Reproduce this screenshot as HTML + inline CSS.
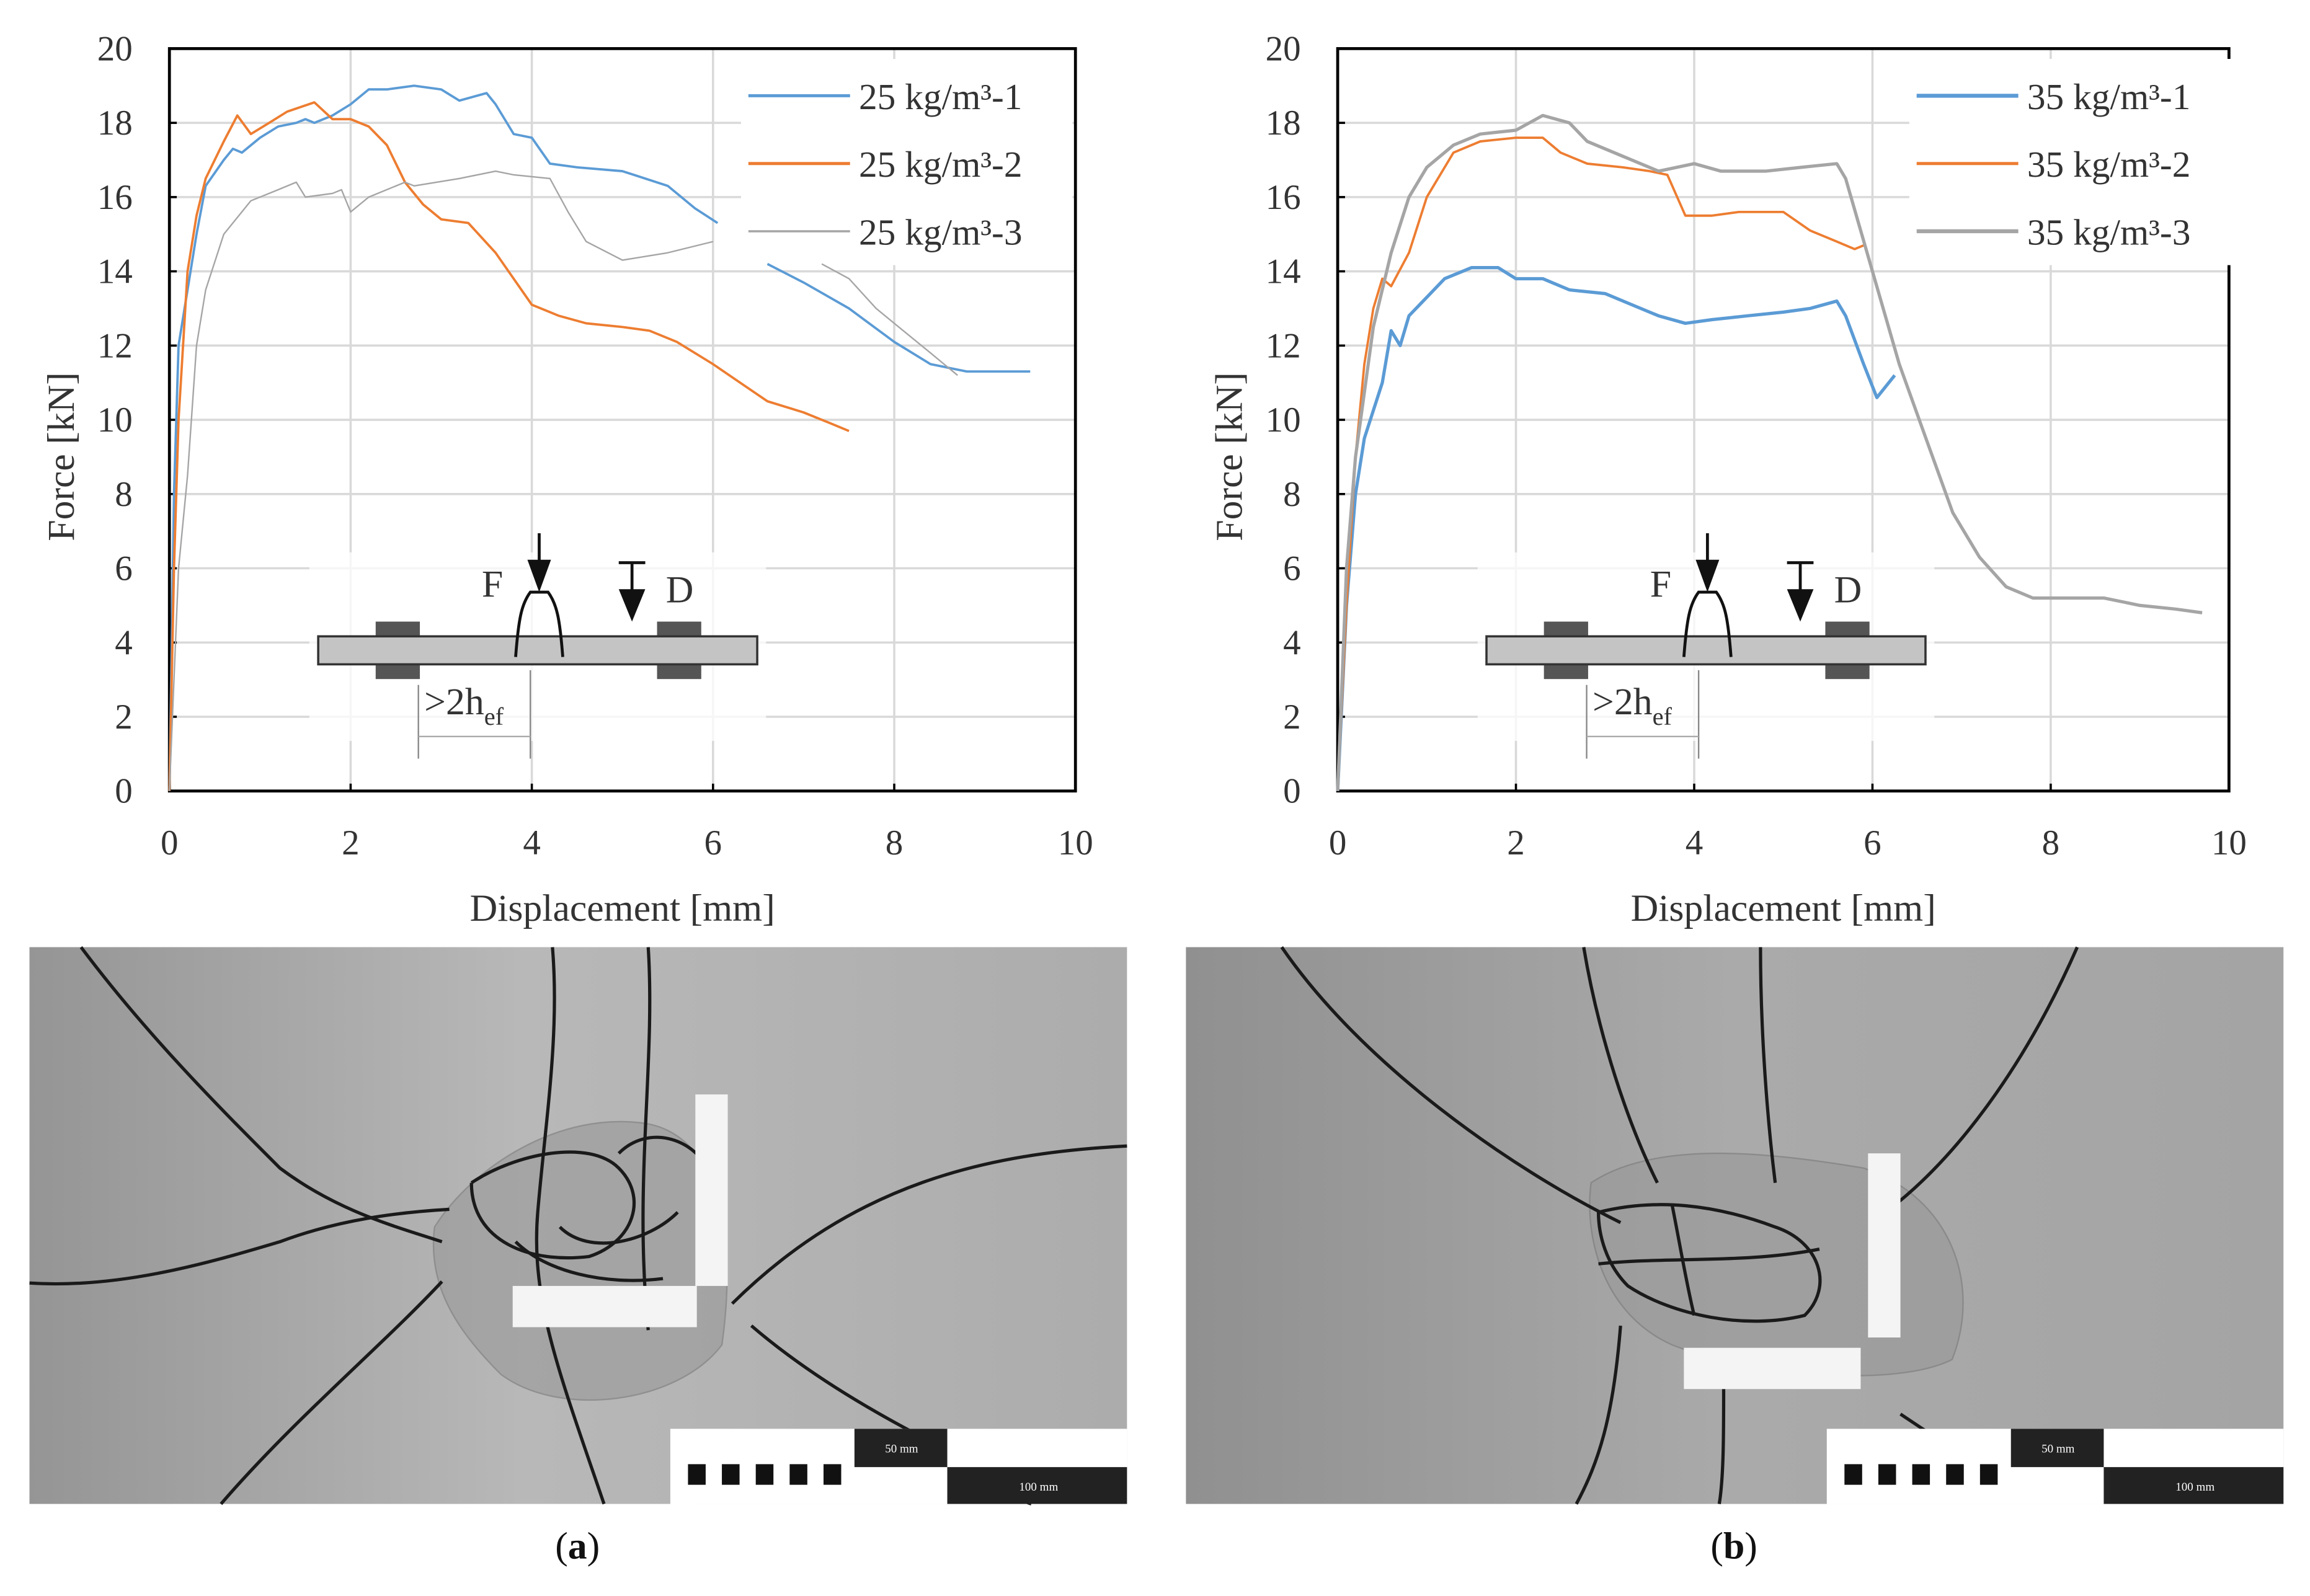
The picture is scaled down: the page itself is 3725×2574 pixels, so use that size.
<!DOCTYPE html>
<html><head><meta charset="utf-8">
<style>
html,body{margin:0;padding:0;background:#fff;}
svg{display:block;}
text{font-family:"Liberation Serif",serif;}
</style></head>
<body>
<svg id="fig" width="3725" height="2574" viewBox="0 0 1568 1083.5" xmlns="http://www.w3.org/2000/svg">
<defs>
<linearGradient id="photoA" x1="0" x2="1" y1="0" y2="0"><stop offset="0" stop-color="#959595"/><stop offset="0.45" stop-color="#b8b8b8"/><stop offset="1" stop-color="#acacac"/></linearGradient>
<linearGradient id="photoB" x1="0" x2="1" y1="0" y2="0"><stop offset="0" stop-color="#909090"/><stop offset="0.5" stop-color="#aaaaaa"/><stop offset="1" stop-color="#a4a4a4"/></linearGradient>
</defs>
<g id="root"></g>
</svg>
<script>
// ---- chart data (displacement mm, force kN); null = gap ----
const xTicks = [0, 2, 4, 6, 8, 10];
const yTicks = [0, 2, 4, 6, 8, 10, 12, 14, 16, 18, 20];
const legendLeft = ["25 kg/m³-1", "25 kg/m³-2", "25 kg/m³-3"];
const legendRight = ["35 kg/m³-1", "35 kg/m³-2", "35 kg/m³-3"];
const a1x = [0,0.05,0.1,0.2,0.3,0.4,0.6,0.7,0.8,1.0,1.2,1.4,1.5,1.6,1.8,2.0,2.2,2.4,2.7,3.0,3.2,3.5,3.6,3.8,4.0,4.2,4.5,5.0,5.5,5.8,6.05,null,6.6,7.0,7.5,8.0,8.4,8.8,9.2,9.5];
const a1y = [0,8,12,13.5,15,16.3,17,17.3,17.2,17.6,17.9,18,18.1,18,18.2,18.5,18.9,18.9,19.0,18.9,18.6,18.8,18.5,17.7,17.6,16.9,16.8,16.7,16.3,15.7,15.3,null,14.2,13.7,13.0,12.1,11.5,11.3,11.3,11.3];
const a2x = [0,0.05,0.1,0.2,0.3,0.4,0.6,0.75,0.9,1.1,1.3,1.6,1.8,2.0,2.2,2.4,2.6,2.8,3.0,3.3,3.6,4.0,4.3,4.6,5.0,5.3,5.6,6.0,6.3,6.6,7.0,7.3,7.5];
const a2y = [0,6,10,14,15.5,16.5,17.5,18.2,17.7,18,18.3,18.55,18.1,18.1,17.9,17.4,16.4,15.8,15.4,15.3,14.5,13.1,12.8,12.6,12.5,12.4,12.1,11.5,11.0,10.5,10.2,9.9,9.7];
const a3x = [0,0.1,0.2,0.3,0.4,0.6,0.9,1.2,1.4,1.5,1.8,1.9,2.0,2.2,2.6,2.7,3.2,3.6,3.8,4.2,4.4,4.6,5.0,5.5,6.0,null,7.2,7.5,7.8,8.1,8.4,8.7];
const a3y = [0,6,8.5,12,13.5,15,15.9,16.2,16.4,16,16.1,16.2,15.6,16,16.4,16.3,16.5,16.7,16.6,16.5,15.6,14.8,14.3,14.5,14.8,null,14.2,13.8,13.0,12.4,11.8,11.2];
const b1x = [0,0.1,0.2,0.3,0.5,0.6,0.7,0.8,1.0,1.2,1.5,1.8,2.0,2.3,2.6,3.0,3.3,3.6,3.9,4.2,4.6,5.0,5.3,5.6,5.7,5.9,6.05,6.25];
const b1y = [0,5,8,9.5,11,12.4,12,12.8,13.3,13.8,14.1,14.1,13.8,13.8,13.5,13.4,13.1,12.8,12.6,12.7,12.8,12.9,13.0,13.2,12.8,11.5,10.6,11.2];
const b2x = [0,0.1,0.2,0.3,0.4,0.5,0.6,0.8,1.0,1.3,1.6,2.0,2.3,2.5,2.8,3.2,3.5,3.7,3.9,4.2,4.5,5.0,5.3,5.6,5.8,5.9];
const b2y = [0,5,9,11.5,13,13.8,13.6,14.5,16,17.2,17.5,17.6,17.6,17.2,16.9,16.8,16.7,16.6,15.5,15.5,15.6,15.6,15.1,14.8,14.6,14.7];
const b3x = [0,0.1,0.2,0.4,0.6,0.8,1.0,1.3,1.6,2.0,2.3,2.6,2.8,3.2,3.6,4.0,4.3,4.8,5.2,5.6,5.7,6.0,6.3,6.6,6.9,7.2,7.5,7.8,8.2,8.6,9.0,9.4,9.7];
const b3y = [0,6,9,12.5,14.5,16,16.8,17.4,17.7,17.8,18.2,18.0,17.5,17.1,16.7,16.9,16.7,16.7,16.8,16.9,16.5,14,11.5,9.5,7.5,6.3,5.5,5.2,5.2,5.2,5.0,4.9,4.8];

const NS = "http://www.w3.org/2000/svg";
const root = document.getElementById("root");
function mk(tag, attrs, parent, txt){
  const e = document.createElementNS(NS, tag);
  for (const k in attrs) e.setAttribute(k, attrs[k]);
  if (txt !== undefined) e.textContent = txt;
  (parent || root).appendChild(e);
  return e;
}
const Y0 = 537, Y1 = 33;
function drawPanel(x0, x1, series, legend, tag){
  const g = mk("g", {});
  
  
  const sx = v => x0 + (x1 - x0) * v / 10;
  const sy = v => Y0 - (Y0 - Y1) * v / 20;
  yTicks.forEach(t => { if (t > 0 && t < 20) { const l = mk("line", {x1:x0, x2:x1, y1:sy(t), y2:sy(t), stroke:"#d9d9d9", "stroke-width":1.5}, g);
    
     } });
  xTicks.forEach(t => { if (t > 0 && t < 10) { const l = mk("line", {x1:sx(t), x2:sx(t), y1:Y1, y2:Y0, stroke:"#d9d9d9", "stroke-width":1.5}, g);
    
     } });
  const fr = mk("rect", {x:x0, y:Y1, width:x1-x0, height:Y0-Y1, fill:"none", stroke:"#000", "stroke-width":2}, g);
  
  
  yTicks.forEach(t => {
    mk("line", {x1:x0, x2:x0+5, y1:sy(t), y2:sy(t), stroke:"#000", "stroke-width":1.5}, g);
    const tx = mk("text", {x:x0-25, y:sy(t)+8, "font-size":24, "text-anchor":"end", fill:"#333"}, g, String(t));
    
    
  });
  xTicks.forEach(t => {
    mk("line", {x1:sx(t), x2:sx(t), y1:Y0, y2:Y0-5, stroke:"#000", "stroke-width":1.5}, g);
    const tx = mk("text", {x:sx(t), y:580, "font-size":24, "text-anchor":"middle", fill:"#333"}, g, String(t));
    
    
  });
  const xt = mk("text", {x:(x0+x1)/2, y:625, "font-size":26, "text-anchor":"middle", fill:"#333"}, g, "Displacement [mm]");
  
  
  const yt = mk("text", {x:0, y:0, "font-size":26, "text-anchor":"middle", fill:"#333", transform:`translate(${x0-65},${(Y0+Y1)/2+25}) rotate(-90)`}, g, "Force [kN]");
  
  
  const lb = mk("rect", {x:x0+388, y:40, width:225, height:140, fill:"#fff"}, g);
  
  
  drawSchematic(g, x0);
  series.forEach((s, i) => {
    let d = "", pen = false;
    s.x.forEach((xv, k) => {
      const yv = s.y[k];
      if (xv === null || yv === null) { pen = false; return; }
      d += (pen ? "L" : "M") + sx(xv).toFixed(1) + "," + sy(yv).toFixed(1);
      pen = true;
    });
    const p = mk("path", {d:d, fill:"none", stroke:s.c, "stroke-width":s.w, "stroke-linejoin":"round"}, g);
    
    
    const ly = 65 + i * 46;
    const ll = mk("line", {x1:x0+393, x2:x0+462, y1:ly, y2:ly, stroke:s.c, "stroke-width":s.w+0.5}, g);
    
    
    const lt = mk("text", {x:x0+468, y:ly+9, "font-size":25, fill:"#333"}, g, legend[i]);
    
    
  });
}
function drawSchematic(g, x0){
  const o = x0 - 115;
  const s = mk("g", {transform:`translate(${o},0)`}, g);
  
  
  mk("rect", {x:210, y:375, width:310, height:128, fill:"#fff", opacity:0.75}, s);
  mk("rect", {x:255, y:422, width:30, height:39, fill:"#555"}, s);
  mk("rect", {x:446, y:422, width:30, height:39, fill:"#555"}, s);
  mk("rect", {x:216, y:432, width:298, height:19, fill:"#c4c4c4", stroke:"#333", "stroke-width":1.5}, s);
  mk("path", {d:"M350,446 C352,420 354,410 360,402 L372,402 C378,410 380,420 382,446", fill:"none", stroke:"#111", "stroke-width":2}, s);
  mk("line", {x1:366, x2:366, y1:362, y2:395, stroke:"#111", "stroke-width":2}, s);
  mk("path", {d:"M358,380 L374,380 L366,402 Z", fill:"#111"}, s);
  mk("line", {x1:420, x2:438, y1:382, y2:382, stroke:"#111", "stroke-width":2}, s);
  mk("line", {x1:429, x2:429, y1:382, y2:405, stroke:"#111", "stroke-width":2}, s);
  mk("path", {d:"M420,400 L438,400 L429,422 Z", fill:"#111"}, s);
  mk("text", {x:327, y:405, "font-size":26, fill:"#333"}, s, "F");
  mk("text", {x:452, y:409, "font-size":26, fill:"#333"}, s, "D");
  mk("line", {x1:284, x2:284, y1:465, y2:515, stroke:"#888", "stroke-width":1}, s);
  mk("line", {x1:360, x2:360, y1:455, y2:515, stroke:"#888", "stroke-width":1}, s);
  mk("line", {x1:284, x2:360, y1:500, y2:500, stroke:"#aaa", "stroke-width":1}, s);
  const t = mk("text", {x:288, y:485, "font-size":26, fill:"#333"}, s, ">2h");
  mk("tspan", {"font-size":17, dy:7}, t, "ef");
}
drawPanel(115, 730, [
  {x:a1x, y:a1y, c:"#5b9bd5", w:1.6},
  {x:a2x, y:a2y, c:"#ed7d31", w:1.6},
  {x:a3x, y:a3y, c:"#a5a5a5", w:1}
], legendLeft, "left");
drawPanel(908, 1513, [
  {x:b1x, y:b1y, c:"#5b9bd5", w:2.2},
  {x:b2x, y:b2y, c:"#ed7d31", w:1.6},
  {x:b3x, y:b3y, c:"#a5a5a5", w:2.2}
], legendRight, "right");

// ---- photos ----
function photo(x, fill, cracks, patches, tag, ruler1, ruler2){
  const g = mk("g", {});
  
  
  mk("rect", {x:x, y:643, width:745, height:378, fill:fill}, g);
  patches.forEach(d => mk("path", {d:d, fill:"#999", opacity:0.6, stroke:"#777", "stroke-width":1, transform:`translate(${x},643)`}, g));
  cracks.forEach(d => mk("path", {d:d, fill:"none", stroke:"#1a1a1a", "stroke-width":2.2, transform:`translate(${x},643)`}, g));
  mk("rect", {x:x+ruler1[0], y:643+ruler1[1], width:ruler1[2], height:ruler1[3], fill:"#f4f4f4"}, g);
  mk("rect", {x:x+ruler2[0], y:643+ruler2[1], width:ruler2[2], height:ruler2[3], fill:"#f4f4f4"}, g);
  const sb = x + 435;
  mk("rect", {x:sb, y:970, width:310, height:51, fill:"#fff"}, g);
  mk("rect", {x:sb+125, y:970, width:63, height:26, fill:"#222"}, g);
  mk("rect", {x:sb+188, y:996, width:122, height:25, fill:"#222"}, g);
  for (let i = 0; i < 5; i++) mk("rect", {x:sb+12+i*23, y:994, width:12, height:14, fill:"#111"}, g);
  mk("text", {x:sb+157, y:986, "font-size":8, fill:"#fff", "text-anchor":"middle"}, g, "50 mm");
  mk("text", {x:sb+250, y:1012, "font-size":8, fill:"#fff", "text-anchor":"middle"}, g, "100 mm");
}
photo(20, "url(#photoA)", [
  "M35,0 C80,60 130,110 170,150 C210,180 250,190 280,200",
  "M0,228 C60,232 120,215 170,200 C210,185 250,180 285,178",
  "M745,135 C650,140 560,160 477,242",
  "M355,0 C360,60 350,120 345,180 C340,240 360,290 390,378",
  "M420,0 C425,80 410,160 420,260",
  "M490,257 C540,300 600,330 640,350 C660,365 670,375 680,378",
  "M280,227 C240,270 180,320 130,378",
  "M300,160 C330,140 380,130 400,150 C420,170 410,200 380,210 C340,215 300,200 300,160",
  "M360,190 C380,210 420,200 440,180 M400,140 C420,120 450,130 460,150",
  "M330,200 C350,220 390,230 430,225"
], ["M275,190 C300,150 360,110 420,120 C470,130 480,200 470,270 C440,310 360,320 320,290 C290,260 270,230 275,190 Z"],
 "photo-a", [452,100,22,130], [328,230,125,28]);
photo(805, "url(#photoB)", [
  "M65,0 C120,80 220,150 295,187",
  "M605,0 C570,80 520,150 465,187",
  "M270,0 C280,60 300,120 320,160",
  "M390,0 C390,60 395,120 400,160",
  "M280,180 C320,170 360,175 400,190 C430,200 440,230 420,250 C380,260 330,250 300,230 C285,215 280,195 280,180",
  "M280,215 C330,210 380,215 430,205 M330,175 C335,200 340,230 345,250",
  "M295,257 C290,320 280,350 265,378",
  "M365,300 C365,330 365,360 362,378",
  "M485,317 C520,340 550,360 575,377"
], ["M275,160 C320,130 400,140 460,150 C520,170 540,230 520,280 C480,300 380,290 330,270 C285,250 270,200 275,160 Z"],
 "photo-b", [463,140,22,125], [338,272,120,28]);

const la = mk("text", {x:392, y:1058, "font-size":26, "text-anchor":"middle", fill:"#111"}, root, "(");


mk("tspan", {"font-weight":"bold"}, la, "a");
mk("tspan", {}, la, ")");
const lbb = mk("text", {x:1177, y:1058, "font-size":26, "text-anchor":"middle", fill:"#111"}, root, "(");


mk("tspan", {"font-weight":"bold"}, lbb, "b");
mk("tspan", {}, lbb, ")");
</script>
</body></html>
